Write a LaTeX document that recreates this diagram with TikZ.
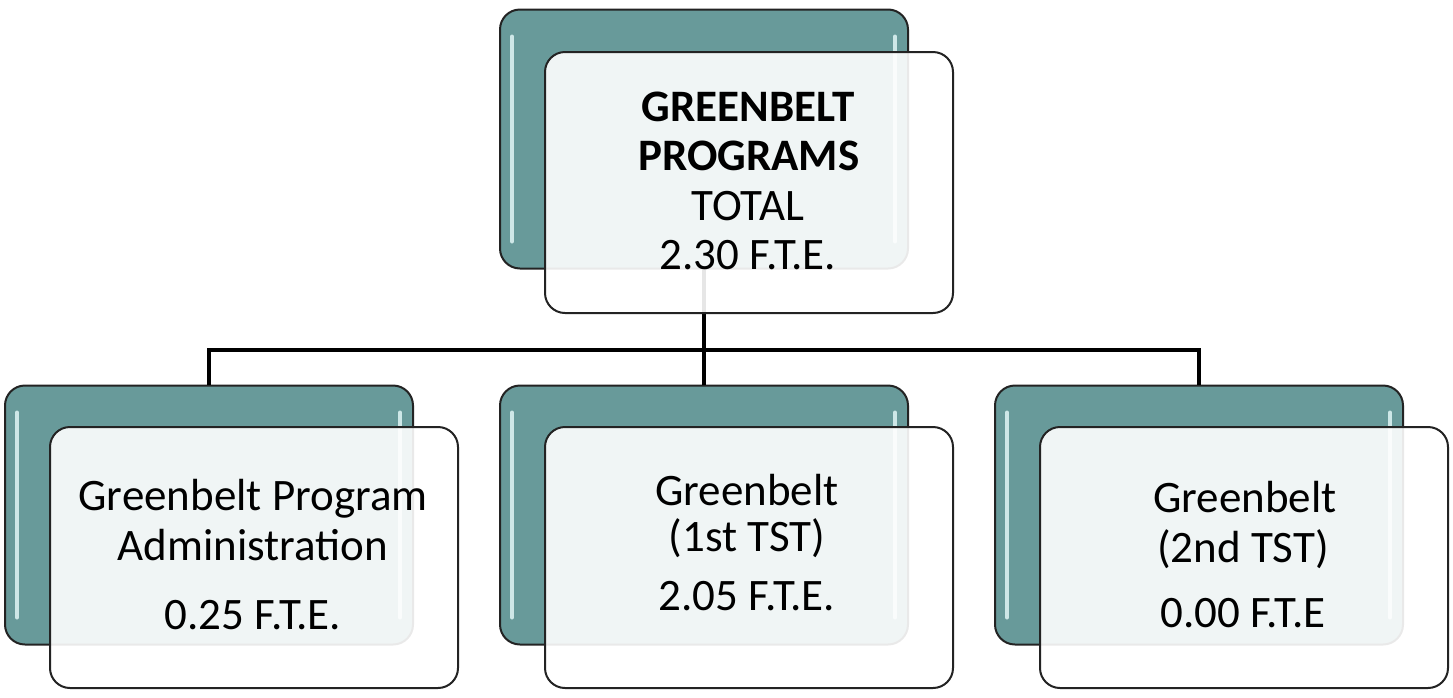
\documentclass[tikz,border=0pt]{standalone}
\usepackage{fontspec}
\setmainfont{Carlito}
\definecolor{tealbox}{RGB}{104,154,154}
\definecolor{edge}{RGB}{35,35,35}
\definecolor{gloss}{RGB}{225,245,245}
\tikzset{
  backbox/.style={draw=edge, line width=2pt, fill=tealbox, rounded corners=20pt,
    minimum width=408pt, minimum height=259pt, inner sep=0pt},
  frontbox/.style={draw=edge, line width=2pt, fill=white, fill opacity=0.9,
    rounded corners=20pt, minimum width=408pt, minimum height=261pt, inner sep=0pt},
  gl/.style={draw=gloss, line width=4pt, line cap=round, opacity=0.85},
  conn/.style={draw=black, line width=3.6pt},
  label/.style={anchor=base, inner sep=0pt, font=\fontsize{45}{54}\selectfont},
}
\begin{document}
\begin{tikzpicture}[x=1pt,y=-1pt]
\useasboundingbox (0,0) rectangle (1453,697);
% back boxes
\node[backbox] (tb) at (704,139) {};
\node[backbox] (lb) at (209,515) {};
\node[backbox] (mb) at (704,515) {};
\node[backbox] (rb) at (1199,515) {};
% gloss highlights
\foreach \n in {tb,lb,mb,rb}{
  \draw[gl] ([shift={(13pt,-28pt)}]\n.north west) -- ([shift={(13pt,28pt)}]\n.south west);
  \draw[gl] ([shift={(-14pt,-28pt)}]\n.north east) -- ([shift={(-14pt,28pt)}]\n.south east);
}
% connectors
\coordinate (bus) at (704,350);
\draw[conn] (tb.south) -- (bus);
\draw[conn] (bus) -| (lb.north);
\draw[conn] (bus) -- (mb.north);
\draw[conn] (bus) -| (rb.north);
% front boxes
\node[frontbox] (tf) at (749,182.5) {};
\node[frontbox] (lf) at (254,557.5) {};
\node[frontbox] (mf) at (749,557.5) {};
\node[frontbox] (rf) at (1244,557.5) {};
% texts
\node[label] (t1) at (748,121) {\textbf{GREENBELT}};
\node[label] (t2) at (749,170) {\textbf{PROGRAMS}};
\node[label] (t3) at (748,220.5) {TOTAL};
\node[label] (t4) at (748,269) {2.30 F.T.E.};
\node[label] (l1) at (253,510) {Greenbelt Program};
\node[label] (l2) at (253,560.5) {Administration};
\node[label] (l3) at (253,629) {0.25 F.T.E.};
\node[label] (m1) at (747,505) {Greenbelt};
\node[label] (m2) at (747,551.5) {(1st TST)};
\node[label] (m3) at (747,610) {2.05 F.T.E.};
\node[label] (r1) at (1245,512.5) {Greenbelt};
\node[label] (r2) at (1243,562.5) {(2nd TST)};
\node[label] (r3) at (1243,627) {0.00 F.T.E};
\end{tikzpicture}
\end{document}
